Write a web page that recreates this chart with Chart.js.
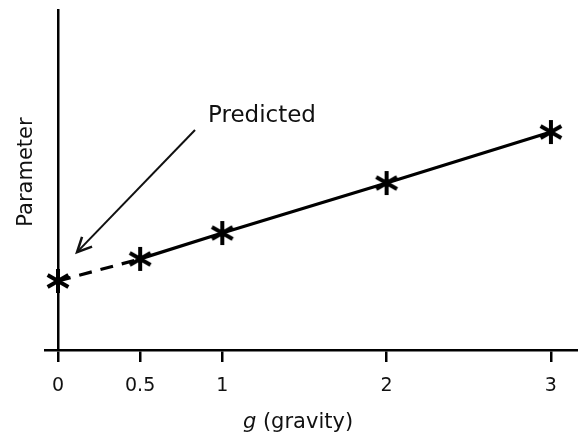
<!DOCTYPE html>
<html>
<head>
<meta charset="utf-8">
<script src="https://cdn.jsdelivr.net/npm/chart.js@4"></script>
<style>
    html, body { margin: 0; padding: 0; background: #fff; }
    .wrap { width: 578px; height: 440px; }
</style>
</head>
<body>
<div class="wrap"><canvas class="param-chart" width="578" height="440"></canvas></div>
<script>
// ---- data ----
const gValues = [0, 0.5, 1, 2, 3];
const paramValues = [20.3, 26.8, 34.4, 49.1, 64.1];
const tickValues = [0, 0.5, 1, 2, 3];
// arrow (tail -> head) and label, in data units
const arrowFrom = [0.834, 64.7];
const arrowTo = [0.116, 28.8];
const labelAt = [0.913, 67];
const labelText = "Predicted";

const FONT = "'DejaVu Sans', Verdana, sans-serif";

// asterisk marker
function asterisk() {
    const c = document.createElement("canvas");
    c.width = 28; c.height = 28;
    const g = c.getContext("2d");
    g.strokeStyle = "#000";
    g.lineWidth = 4;
    g.lineCap = "butt";
    for (let a = 0; a < 3; a++) {
        const ang = Math.PI / 2 + a * Math.PI / 3;
        const dx = Math.cos(ang) * 12, dy = Math.sin(ang) * 12;
        g.beginPath();
        g.moveTo(14 - dx, 14 - dy);
        g.lineTo(14 + dx, 14 + dy);
        g.stroke();
    }
    return c;
}

// draws the annotation + axis titles
const extras = {
    id: "extras",
    afterDraw(chart) {
        const ctx = chart.ctx;
        const x = chart.scales.x, y = chart.scales.y;
        ctx.save();
        ctx.fillStyle = "#111";
        ctx.strokeStyle = "#111";

        // arrow
        const x1 = x.getPixelForValue(arrowFrom[0]), y1 = y.getPixelForValue(arrowFrom[1]);
        const x2 = x.getPixelForValue(arrowTo[0]), y2 = y.getPixelForValue(arrowTo[1]);
        ctx.lineWidth = 2;
        ctx.beginPath();
        ctx.moveTo(x1, y1);
        ctx.lineTo(x2, y2);
        ctx.stroke();
        const ang = Math.atan2(y2 - y1, x2 - x1);
        const hl = 16, hw = 0.45;
        ctx.lineWidth = 2.5;
        ctx.beginPath();
        ctx.moveTo(x2 - hl * Math.cos(ang - hw), y2 - hl * Math.sin(ang - hw));
        ctx.lineTo(x2, y2);
        ctx.lineTo(x2 - hl * Math.cos(ang + hw), y2 - hl * Math.sin(ang + hw));
        ctx.stroke();

        // label
        ctx.font = "23px " + FONT;
        ctx.textBaseline = "alphabetic";
        ctx.textAlign = "left";
        ctx.fillText(labelText, x.getPixelForValue(labelAt[0]), y.getPixelForValue(labelAt[1]));

        // x title with italic g
        ctx.font = "italic 21px " + FONT;
        const gW = ctx.measureText("g").width;
        ctx.font = "21px " + FONT;
        const restW = ctx.measureText(" (gravity)").width;
        const tx = 298 - (gW + restW) / 2;
        ctx.font = "italic 21px " + FONT;
        ctx.fillText("g", tx, 428);
        ctx.font = "21px " + FONT;
        ctx.fillText(" (gravity)", tx + gW, 428);

        // y title
        ctx.translate(32, 172);
        ctx.rotate(-Math.PI / 2);
        ctx.textAlign = "center";
        ctx.font = "21px " + FONT;
        ctx.fillText("Parameter", 0, 0);
        ctx.restore();
    }
};

const ctx = document.querySelector(".param-chart").getContext("2d");
new Chart(ctx, {
    type: "line",
    data: {
        labels: gValues,
        datasets: [{
            data: gValues.map((g, i) => ({ x: g, y: paramValues[i] })),
            borderColor: "#000",
            borderWidth: 3.2,
            pointStyle: asterisk(),
            pointRadius: 13,
            tension: 0,
            fill: false,
            clip: false,
            segment: {
                borderDash: c => c.p0DataIndex === 0 ? [13, 9] : undefined
            }
        }]
    },
    options: {
        responsive: false,
        animation: false,
        layout: { autoPadding: false, padding: { left: 45, right: 0, top: 10, bottom: 0 } },
        plugins: { legend: { display: false }, tooltip: { enabled: false } },
        scales: {
            x: {
                type: "linear",
                min: -0.079,
                max: 3.165,
                afterFit: s => { s.height = 90; s.paddingLeft = 0; s.paddingRight = 0; },
                afterBuildTicks: s => { s.ticks = tickValues.map(v => ({ value: v })); },
                grid: {
                    drawOnChartArea: false,
                    drawTicks: true,
                    tickLength: 12,
                    color: "#000",
                    lineWidth: 2.5
                },
                border: { display: true, color: "#000", width: 2.5 },
                ticks: {
                    color: "#111",
                    font: { family: FONT, size: 19 },
                    padding: 13,
                    maxRotation: 0,
                    autoSkip: false,
                    callback: v => String(v)
                }
            },
            y: {
                position: { x: 0 },
                min: 0,
                max: 100,
                afterFit: s => { s.paddingTop = 0; s.paddingBottom = 0; },
                grid: { display: false },
                border: { display: true, color: "#000", width: 2.5 },
                ticks: { display: false }
            }
        }
    },
    plugins: [extras]
});
</script>
</body>
</html>
